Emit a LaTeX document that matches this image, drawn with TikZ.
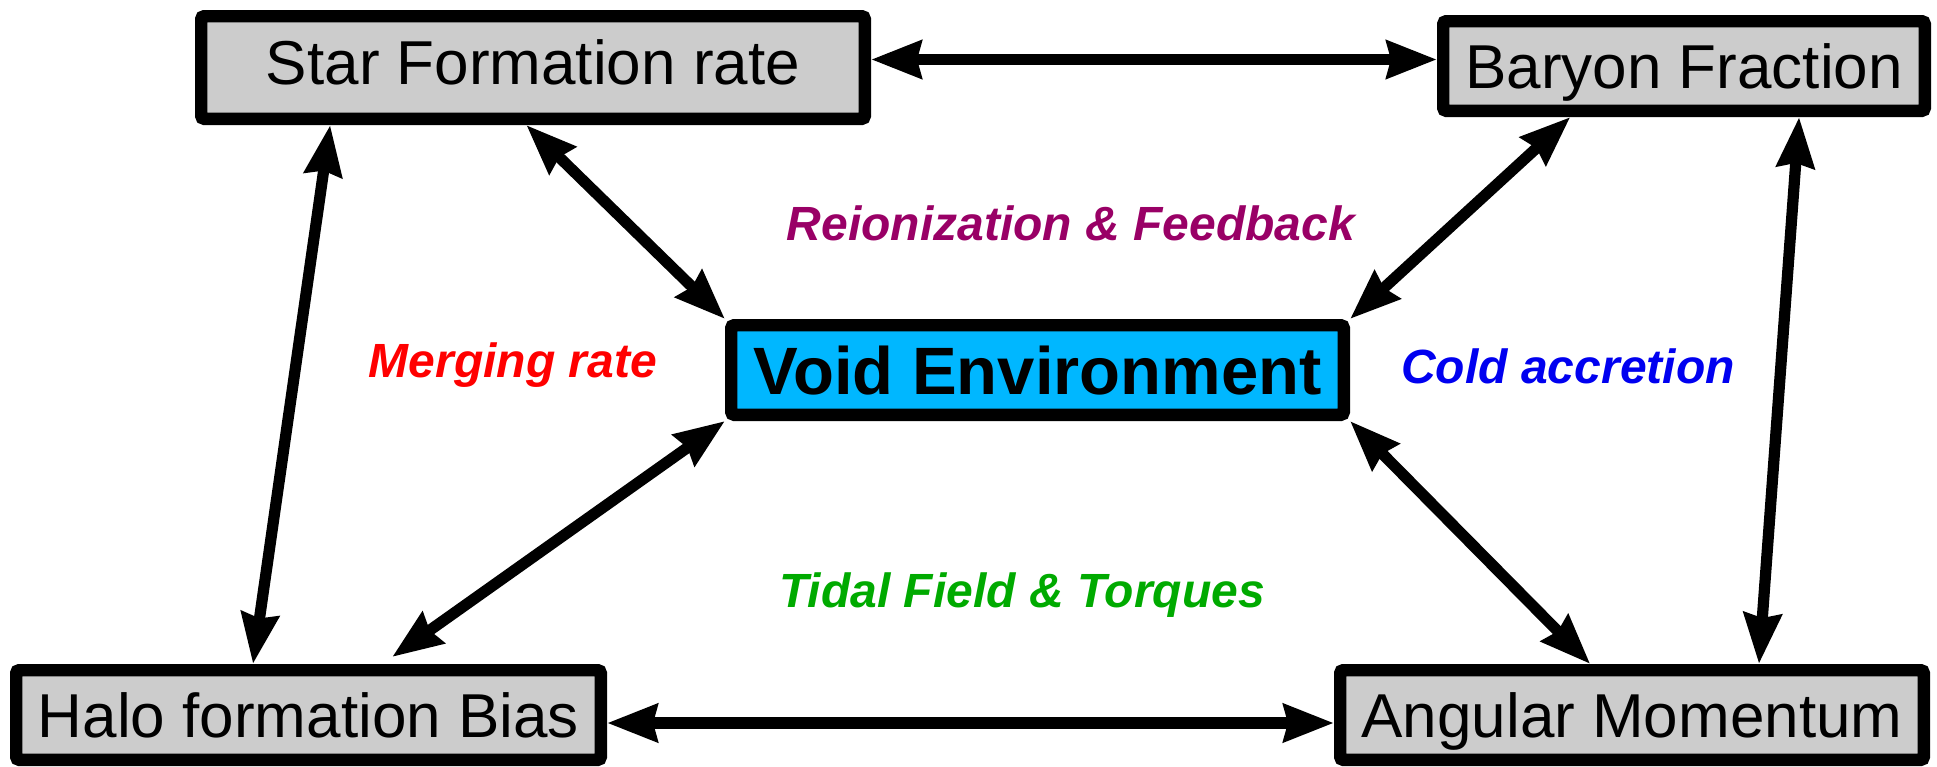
\documentclass[tikz,border=0pt]{standalone}
\usepackage{fontspec}
\setmainfont{Liberation Sans}
\usetikzlibrary{arrows.meta,calc}
\definecolor{boxgray}{HTML}{CCCCCC}
\definecolor{voidblue}{HTML}{00B7FF}
\definecolor{reioncol}{HTML}{990066}
\definecolor{mergecol}{HTML}{FF0000}
\definecolor{coldcol}{HTML}{0000F0}
\definecolor{tidalcol}{HTML}{00AA00}
\begin{document}
\begin{tikzpicture}[x=0.5pt,y=-0.5pt,
    box/.style={draw,line width=6.2pt,fill=boxgray,rounded corners=1.5pt,
      inner sep=0pt,minimum height=44.8pt,text height=22pt,text depth=0pt,
      font=\fontsize{31}{36}\selectfont},
    link/.style={line width=5.6pt,
      {Stealth[length=25pt,width=18.5pt,inset=2pt]}-{Stealth[length=25pt,width=18.5pt,inset=2pt]}},
    effect/.style={inner sep=0pt,text height=17pt,text depth=0pt,
      font=\fontsize{24}{28}\selectfont\bfseries\itshape}]
      \useasboundingbox (0,0) rectangle (1937,766);
      \draw
        (533,67.5) node[box,minimum width=331.8pt,minimum height=51.3pt,text depth=5pt] (sfr){Star Formation rate}
        (1684,66) node[box,minimum width=240.8pt] (baryon){Baryon Fraction}
        (1037.5,370) node[box,minimum width=306.3pt,fill=voidblue,
          font=\fontsize{33.5}{40}\selectfont\bfseries,text height=24pt] (void){Void Environment}
        (308.5,715) node[box,minimum width=292.3pt] (halo){Halo formation Bias}
        (1632,715) node[box,minimum width=291.8pt] (angmom){Angular Momentum};
      \draw
        (1071,223.5) node[effect,text=reioncol] (reion){Reionization \& Feedback}
        (513,360) node[effect,text=mergecol] (merge){Merging rate}
        (1568,366) node[effect,text=coldcol] (cold){Cold accretion}
        (1022,590) node[effect,text=tidalcol] (tidal){Tidal Field \& Torques};
      \begin{scope}[link]
        \draw ([yshift=4pt]sfr.east) to ([yshift=4pt]sfr.east -| baryon.west);
        \draw ($(sfr.south west)!0.49!(sfr.south east)$) to (void.north west);
        \draw ($(baryon.south west)!0.27!(baryon.south east)$) to (void.north east);
        \draw (void.south east) to ($(angmom.north west)!0.43!(angmom.north east)$);
        \draw (void.south west) to ([yshift=3.5pt]$(halo.north west)!0.64!(halo.north east)$);
        \draw ($(sfr.south west)!0.2!(sfr.south east)$) to ($(halo.north west)!0.407!(halo.north east)$);
        \draw ($(baryon.south west)!0.733!(baryon.south east)$) to ($(angmom.north west)!0.713!(angmom.north east)$);
        \draw ([yshift=-4pt]halo.east) to ([yshift=-4pt]halo.east -| angmom.west);
      \end{scope}
    \end{tikzpicture}
\end{document}
